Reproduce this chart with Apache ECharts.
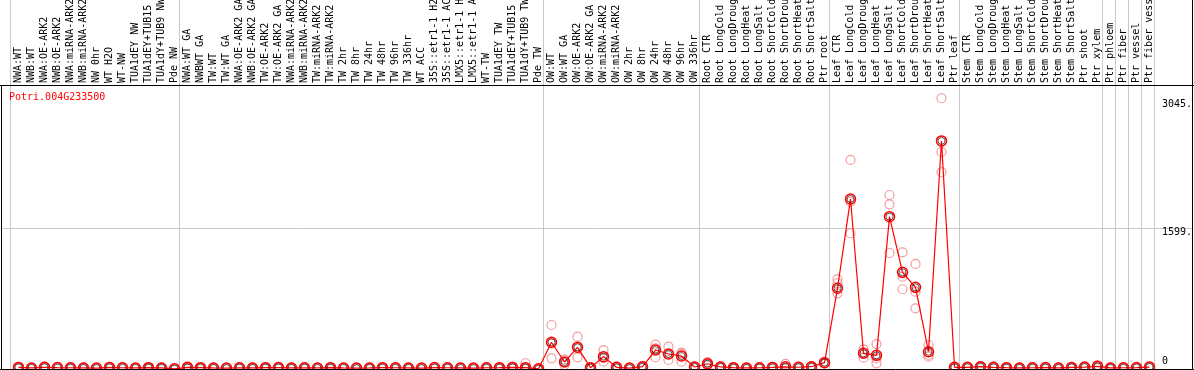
<!DOCTYPE html>
<html>
<head>
<meta charset="utf-8">
<script src="https://cdn.jsdelivr.net/npm/echarts@6/dist/echarts.min.js"></script>
<style>
html,body{margin:0;padding:0;background:#fff;}
#c{width:1194px;height:370px;}
</style>
</head>
<body>
<div id="c"></div>
<script>
const geneLabel = 'Potri.004G233500';

const categories = [
  'NWA:WT','NWB:WT','NWA:OE-ARK2','NWB:OE-ARK2','NWA:miRNA-ARK2','NWB:miRNA-ARK2','NW 0hr','WT H2O','WT-NW','TUA1dEY NW','TUA1dEY+TUB15','TUA1dY+TUB9 NW','Pde NW',
  'NWA:WT GA','NWBWT GA','TW:WT','TW:WT GA','NWA:OE-ARK2 GA','NWB:OE-ARK2 GA','TW:OE-ARK2','TW:OE-ARK2 GA','NWA:miRNA-ARK2','NWB:miRNA-ARK2','TW:miRNA-ARK2','TW:miRNA-ARK2',
  'TW 2hr','TW 8hr','TW 24hr','TW 48hr','TW 96hr','TW 336hr','WT ACC','35S::etr1-1 H2O','35S::etr1-1 ACC','LMX5::etr1-1 H2O','LMX5::etr1-1 ACC','WT-TW','TUA1dEY TW','TUA1dEY+TUB15','TUA1dY+TUB9 TW','Pde TW',
  'OW:WT','OW:WT GA','OW:OE-ARK2','OW:OE-ARK2 GA','OW:miRNA-ARK2','OW:miRNA-ARK2','OW 2hr','OW 8hr','OW 24hr','OW 48hr','OW 96hr','OW 336hr',
  'Root CTR','Root LongCold','Root LongDrought','Root LongHeat','Root LongSalt','Root ShortCold','Root ShortDrought','Root ShortHeat','Root ShortSalt','Ptr root',
  'Leaf CTR','Leaf LongCold','Leaf LongDrought','Leaf LongHeat','Leaf LongSalt','Leaf ShortCold','Leaf ShortDrought','Leaf ShortHeat','Leaf ShortSalt','Ptr leaf',
  'Stem CTR','Stem LongCold','Stem LongDrought','Stem LongHeat','Stem LongSalt','Stem ShortCold','Stem ShortDrought','Stem ShortHeat','Stem ShortSalt','Ptr shoot','Ptr xylem',
  'Ptr phloem','Ptr fiber','Ptr vessel','Ptr fiber vessel'
];

// indices where a new group begins (separator drawn at left edge); last = end
const groupStarts = [0, 13, 41, 53, 63, 73, 84, 85, 86, 87, 88];

const means = [
  18, 12, 20, 16, 14, 12, 10, 18, 14, 12, 15, 12, 2,
  18, 15, 12, 10, 14, 12, 15, 17, 12, 14, 12, 15, 12, 10, 12, 15, 14, 12, 10, 16, 14, 12, 10, 14, 15, 18, 15, 2,
  303, 79, 246, 15, 140, 19, 10, 26, 215, 170, 147, 23,
  60, 23, 15, 12, 14, 18, 25, 20, 26, 72,
  915, 1928, 178, 155, 1727, 1096, 926, 196, 2586, 19,
  19, 26, 19, 15, 12, 14, 16, 12, 18, 22, 30,
  12, 14, 16, 22
];

const replicates = [
  [25,15,14],[12,10,14],[28,18,14],[22,14,12],[20,12,10],[18,12,8],[10,12,8],[24,16,14],[18,12,12],[14,12,10],[22,14,10],[16,12,8],[3,2,1],
  [30,16,8],[18,14,13],[16,12,8],[12,10,8],[20,12,10],[16,12,8],[20,14,11],[24,16,11],[16,12,8],[18,14,10],[15,12,9],[20,14,11],[15,12,9],[12,10,8],[16,12,8],[20,14,11],[18,14,10],[15,12,9],[12,10,8],[22,15,11],[18,14,10],[15,12,9],[12,10,8],[18,14,10],[20,14,11],[26,18,10],[65,12,8],[3,2,1],
  [499,290,121],[110,82,45],[366,240,132],[20,15,10],[215,122,83],[26,18,13],[14,10,6],[34,26,18],[276,235,134],[253,170,102],[185,173,83],[30,22,17],
  [78,60,42],[30,22,17],[20,15,10],[16,12,8],[18,14,10],[24,18,12],[58,12,8],[28,20,14],[34,26,18],[80,72,64],
  [1020,972,858],[2370,1897,1539],[223,180,128],[283,120,64],[1973,1867,1315],[1323,1047,904],[1191,877,688],[272,159,140],[3070,2461,2231],[24,18,14],
  [24,18,14],[34,26,18],[26,18,13],[20,15,10],[16,12,8],[18,14,10],[22,16,10],[16,12,8],[24,18,12],[28,22,16],[40,25,12],
  [16,12,8],[18,14,10],[20,16,12],[28,22,16]
];

const yTickValues = [3045, 1599, 0];
const yTickLabels = ['3045.', '1599.', '0'];
const yMax = 3220;

const FONT = '"DejaVu Sans Mono", "Liberation Mono", monospace';

const repData = [];
replicates.forEach((arr, i) => arr.forEach(v => repData.push([i, v])));

const chart = echarts.init(document.getElementById('c'), null, {renderer: 'canvas'});
chart.setOption({
  animation: false,
  backgroundColor: '#ffffff',
  grid: {left: 12, top: 85, width: 1144, height: 284, containLabel: false, outerBoundsMode: 'none'},
  xAxis: {
    type: 'category',
    position: 'top',
    data: categories,
    boundaryGap: true,
    axisLine: {show: false},
    axisTick: {show: false},
    splitLine: {show: false},
    axisLabel: {
      interval: 0, rotate: 90, margin: 2, hideOverlap: false,
      color: '#000', fontFamily: FONT, fontSize: 10
    }
  },
  yAxis: {
    type: 'value', min: 0, max: yMax,
    show: false, splitLine: {show: false}
  },
  series: [
    {
      type: 'scatter',
      data: repData,
      symbol: 'circle',
      symbolSize: 9,
      itemStyle: {color: 'rgba(0,0,0,0)', borderColor: '#ef8585', borderWidth: 1.2},
      z: 2
    },
    {
      type: 'line',
      data: means,
      symbol: 'circle',
      symbolSize: 10,
      lineStyle: {color: '#ff0000', width: 1.2},
      itemStyle: {color: 'rgba(0,0,0,0)', borderColor: '#ff0000', borderWidth: 1.5},
      z: 3
    },
    {
      type: 'scatter',
      data: means.map((v, i) => [i, v]),
      symbol: 'circle',
      symbolSize: 7,
      itemStyle: {color: 'rgba(0,0,0,0)', borderColor: '#000', borderWidth: 0.8},
      z: 4
    }
  ]
});

function px(i) { return chart.convertToPixel({xAxisIndex: 0}, i); }
function py(v) { return chart.convertToPixel({yAxisIndex: 0}, v); }

const step = px(1) - px(0);
const yTop = 85, yBot = 369, xL = 1, xR = 1192;
const g = [];
groupStarts.forEach(idx => {
  let x = Math.round(px(0) + (idx - 0.5) * step) - 1.5;
  if (idx === 0) x = 10.5;
  g.push({type: 'line', shape: {x1: x, y1: 0, x2: x, y2: yBot}, style: {stroke: '#c8c8c8', lineWidth: 1}, z: 1});
});
const y1599 = Math.round(py(1599)) + 0.5;
g.push({type: 'line', shape: {x1: xL, y1: y1599, x2: xR, y2: y1599}, style: {stroke: '#c8c8c8', lineWidth: 1}, z: 1});
// borders
g.push({type: 'line', shape: {x1: 0, y1: yTop + 0.5, x2: 1194, y2: yTop + 0.5}, style: {stroke: '#000', lineWidth: 1}, z: 10});
g.push({type: 'line', shape: {x1: 0, y1: yBot + 0.5, x2: 1194, y2: yBot + 0.5}, style: {stroke: '#000', lineWidth: 1}, z: 10});
g.push({type: 'line', shape: {x1: xL + 0.5, y1: yTop, x2: xL + 0.5, y2: 370}, style: {stroke: '#000', lineWidth: 1}, z: 10});
g.push({type: 'line', shape: {x1: xR + 0.5, y1: 0, x2: xR + 0.5, y2: 370}, style: {stroke: '#000', lineWidth: 1}, z: 10});
// y tick labels
yTickValues.forEach((v, k) => {
  const y = py(v);
  const isZero = v === 0;
  g.push({
    type: 'text', x: 1162, y: isZero ? y - 3 : y - 1, z: 10,
    style: {text: yTickLabels[k], fill: '#000', font: '10px ' + FONT, verticalAlign: isZero ? 'bottom' : 'top', align: 'left'}
  });
});
// gene label
g.push({type: 'text', x: 9, y: 92, z: 10, style: {text: geneLabel, fill: '#ff0000', font: '10px ' + FONT, verticalAlign: 'top'}});
chart.setOption({graphic: g});
</script>
</body>
</html>
